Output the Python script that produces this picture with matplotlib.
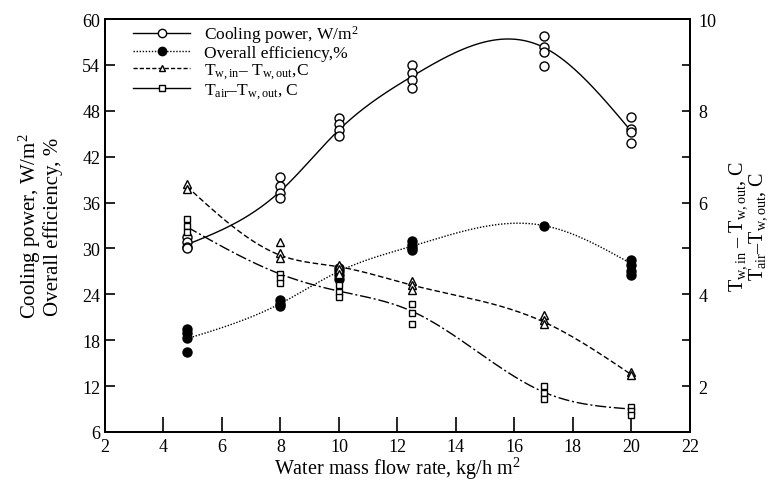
import numpy as np
import matplotlib
matplotlib.use("Agg")
import matplotlib.pyplot as plt
from matplotlib.ticker import MultipleLocator

plt.rcParams['font.family'] = ['Liberation Serif', 'DejaVu Serif']
plt.rcParams['mathtext.fontset'] = 'custom'
plt.rcParams['mathtext.rm'] = 'Liberation Serif'
plt.rcParams['mathtext.it'] = 'Liberation Serif'

# === DATA ===
flow = [4.8, 8, 10, 12.5, 17, 20]

cool_pts = [[31.5, 30.8, 30.2, 30.0],
            [39.3, 38.2, 37.2, 36.6],
            [47.0, 46.3, 45.5, 44.7],
            [54.0, 53.0, 52.0, 51.0],
            [57.8, 56.3, 55.7, 53.8],
            [47.2, 45.6, 45.2, 43.8]]
cool_fit = [30.5, 37.5, 45.5, 52.5, 56.3, 45.3]

eff_pts = [[19.5, 19.0, 18.3, 16.5],
           [23.3, 22.8, 22.5],
           [27.5, 27.0, 26.5, 26.0],
           [31.0, 30.5, 30.0, 29.8],
           [33.0],
           [28.5, 27.8, 27.0, 26.5]]
eff_fit = [18.2, 22.8, 27.0, 30.3, 33.0, 28.0]

dtw_pts = [[6.4, 6.3],
           [5.15, 4.9, 4.8],
           [4.65, 4.55, 4.45],
           [4.3, 4.2, 4.1],
           [3.55, 3.45, 3.35],
           [2.3, 2.25]]
dtw_fit = [6.35, 4.85, 4.6, 4.2, 3.4, 2.25]

dta_pts = [[5.65, 5.5, 5.35],
           [4.45, 4.35, 4.25],
           [4.2, 4.05, 3.95],
           [3.8, 3.6, 3.35],
           [2.0, 1.85, 1.72],
           [1.55, 1.45, 1.38]]
dta_fit = [5.47, 4.44, 4.07, 3.63, 1.87, 1.5]

labels = ["Cooling power, W/m$^2$",
          "Overall efficiency,%",
          "T$_{w,in}$\u2013 T$_{w,out}$,C",
          "T$_{air}$\u2013T$_{w,out}$, C"]


def spline(xk, yk, xs):
    # natural cubic spline through the knots
    xk = np.asarray(xk, float); yk = np.asarray(yk, float)
    n = len(xk); h = np.diff(xk)
    A = np.zeros((n, n)); b = np.zeros(n)
    A[0, 0] = A[-1, -1] = 1
    for i in range(1, n - 1):
        A[i, i - 1] = h[i - 1]; A[i, i] = 2 * (h[i - 1] + h[i]); A[i, i + 1] = h[i]
        b[i] = 6 * ((yk[i + 1] - yk[i]) / h[i] - (yk[i] - yk[i - 1]) / h[i - 1])
    M = np.linalg.solve(A, b)
    out = np.empty_like(xs)
    for j, x in enumerate(xs):
        i = min(max(np.searchsorted(xk, x) - 1, 0), n - 2)
        t1 = xk[i + 1] - x; t0 = x - xk[i]
        out[j] = (M[i] * t1**3 + M[i + 1] * t0**3) / (6 * h[i]) \
            + (yk[i] / h[i] - M[i] * h[i] / 6) * t1 + (yk[i + 1] / h[i] - M[i + 1] * h[i] / 6) * t0
    return out


def scatter_pts(a, pts, **kw):
    xs, ys = [], []
    for x, col in zip(flow, pts):
        xs += [x] * len(col); ys += col
    a.plot(xs, ys, linestyle='none', color='black', **kw)


fig = plt.figure(figsize=(7.76, 4.81), dpi=100)
ax = fig.add_axes([0.1353, 0.0998, 0.7537, 0.8586])
ax2 = ax.twinx()

xs = np.linspace(flow[0], flow[-1], 300)
lw = 1.0
ax.plot(xs, spline(flow, cool_fit, xs), color='black', lw=lw, ls='-')
ax.plot(xs, spline(flow, eff_fit, xs), color='black', lw=lw, ls=(0, (1, 1.2)))
ax2.plot(xs, spline(flow, dtw_fit, xs), color='black', lw=lw, ls=(0, (4, 2)))
ax2.plot(xs, spline(flow, dta_fit, xs), color='black', lw=lw, ls=(0, (8, 2, 1.5, 2)))

scatter_pts(ax, cool_pts, marker='o', ms=6.5, mfc='white', mew=1.0)
scatter_pts(ax, eff_pts, marker='o', ms=6.5, mfc='black', mew=1.0)
scatter_pts(ax2, dtw_pts, marker='^', ms=5.5, mfc='white', mew=1.0)
scatter_pts(ax2, dta_pts, marker='s', ms=5, mfc='white', mew=1.0)

# legend handles
h1, = ax.plot([], [], color='black', lw=lw, ls='-', marker='o', ms=6, mfc='white')
h2, = ax.plot([], [], color='black', lw=lw, ls=(0, (1, 1.2)), marker='o', ms=6, mfc='black')
h3, = ax.plot([], [], color='black', lw=lw, ls=(0, (3, 1.5)), marker='^', ms=5, mfc='white')
h4, = ax.plot([], [], color='black', lw=lw, ls='-', marker='s', ms=5, mfc='white')
leg = ax.legend([h1, h2, h3, h4], labels, loc='upper left', bbox_to_anchor=(0.03, 1.015),
                frameon=False, fontsize=12.5, handlelength=3.3, labelspacing=0.0,
                handletextpad=0.8, borderaxespad=0.2)

ax.set_xlim(2, 22)
ax.set_ylim(6, 60)
ax2.set_ylim(1, 10)
ax.xaxis.set_major_locator(MultipleLocator(2))
ax.yaxis.set_major_locator(MultipleLocator(6))
ax2.yaxis.set_major_locator(MultipleLocator(2))
ax2.yaxis.set_minor_locator(MultipleLocator(1))

ax.tick_params(axis='both', direction='in', length=7, width=1.2, labelsize=13)
ax.tick_params(axis='x', length=11, pad=4)
ax2.tick_params(axis='y', which='major', direction='in', length=6, width=1.2, labelsize=13, pad=6)
ax2.tick_params(axis='y', which='minor', direction='in', length=6, width=1.2)
for a in (ax, ax2):
    for s in a.spines.values():
        s.set_linewidth(1.4)

ax.set_xlabel("Water mass flow rate, kg/h m$^2$", fontsize=14.5, labelpad=0)
ax.set_ylabel("Cooling power, W/m$^2$\nOverall efficiency, %", fontsize=15,
              linespacing=0.95, labelpad=14)
ax2.set_ylabel("T$_{w,in}$ \u2013 T$_{w,out}$, C\nT$_{air}$\u2013T$_{w,out}$, C",
               fontsize=14.5, rotation=90, linespacing=0.9, labelpad=8)

fig.savefig("out.png", dpi=100)
